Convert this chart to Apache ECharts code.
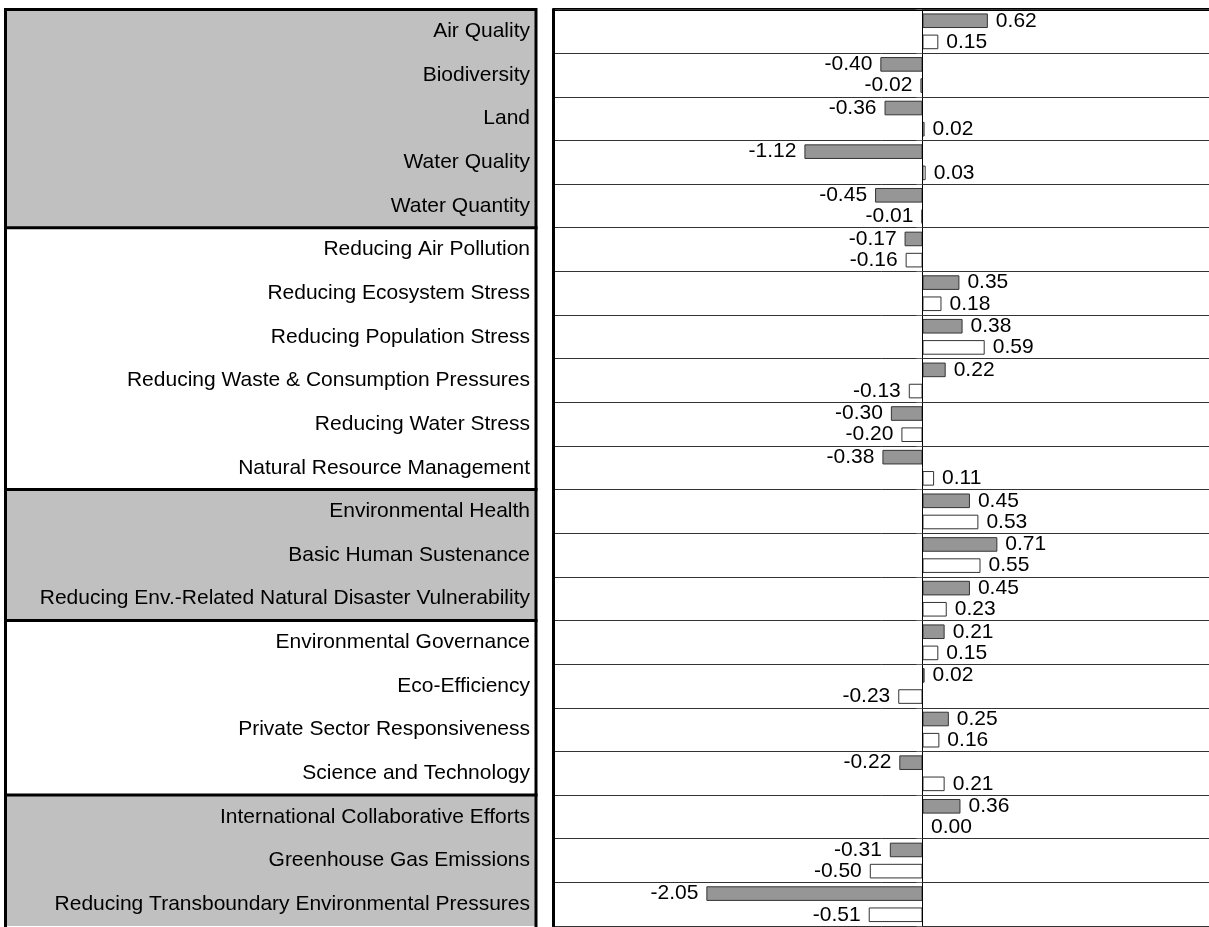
<!DOCTYPE html>
<html>
<head>
<meta charset="utf-8">
<script src="https://cdn.jsdelivr.net/npm/echarts@6/dist/echarts.min.js"></script>
<style>
html,body{margin:0;padding:0;background:#fff;}
#main{width:1209px;height:927px;}
</style>
</head>
<body>
<div id="main"></div>
<script>
const categories = [
  'Air Quality','Biodiversity','Land','Water Quality','Water Quantity',
  'Reducing Air Pollution','Reducing Ecosystem Stress','Reducing Population Stress',
  'Reducing Waste & Consumption Pressures','Reducing Water Stress','Natural Resource Management',
  'Environmental Health','Basic Human Sustenance','Reducing Env.-Related Natural Disaster Vulnerability',
  'Environmental Governance','Eco-Efficiency','Private Sector Responsiveness','Science and Technology',
  'International Collaborative Efforts','Greenhouse Gas Emissions','Reducing Transboundary Environmental Pressures'
];
const greyValues = [0.62,-0.40,-0.36,-1.12,-0.45,-0.17,0.35,0.38,0.22,-0.30,-0.38,0.45,0.71,0.45,0.21,0.02,0.25,-0.22,0.36,-0.31,-2.05];
const whiteValues = [0.15,-0.02,0.02,0.03,-0.01,-0.16,0.18,0.59,-0.13,-0.20,0.11,0.53,0.55,0.23,0.15,-0.23,0.16,0.21,0.00,-0.50,-0.51];
// groups: [first row, last row, shaded]
const groups = [[0,4,1],[5,10,0],[11,13,1],[14,17,0],[18,20,1]];

const FONT = "'Liberation Sans', Arial, sans-serif";
const chart = echarts.init(document.getElementById('main'));

function barData(vals){
  return vals.map(v => ({value: v, label: {position: v < 0 ? 'left' : 'right'}}));
}
const valueLabel = {
  show: true, distance: 8, fontSize: 21, fontFamily: FONT, color: '#000',
  formatter: p => Number(p.value).toFixed(2)
};

chart.setOption({
  animation: false,
  backgroundColor: '#fff',
  grid: [
    {left: 5.5, top: 9.5, width: 530.5, height: 916.5, outerBoundsMode: 'none', containLabel: false},
    {left: 553.5, top: 9.5, width: 738, height: 916.5, outerBoundsMode: 'none', containLabel: false}
  ],
  xAxis: [
    {gridIndex: 0, type: 'value', min: 0, max: 1, show: false},
    {gridIndex: 1, type: 'value', min: -3.5, max: 3.5, position: 'top',
     axisLine: {show: true, onZero: false, lineStyle: {color: '#000', width: 3}},
     axisTick: {show: false}, axisLabel: {show: false}, splitLine: {show: false}}
  ],
  yAxis: [
    {gridIndex: 0, type: 'category', data: categories, inverse: true, position: 'right', z: 10,
     axisLine: {show: false}, axisTick: {show: false}, splitLine: {show: false},
     axisLabel: {inside: true, margin: 6, fontSize: 21, fontFamily: FONT, color: '#000'}},
    {gridIndex: 1, type: 'category', data: categories, inverse: true, z: 5,
     axisLine: {show: true, onZero: true, lineStyle: {color: '#000', width: 1}},
     axisTick: {show: true, length: 6, lineStyle: {color: '#666'}},
     axisLabel: {show: false},
     splitLine: {show: true, lineStyle: {color: '#333', width: 1}}},
    {gridIndex: 1, type: 'category', data: categories, inverse: true, position: 'left', z: 6,
     axisLine: {show: true, onZero: false, lineStyle: {color: '#000', width: 3}},
     axisTick: {show: false}, axisLabel: {show: false}, splitLine: {show: false}}
  ],
  series: [
    {
      type: 'custom', xAxisIndex: 0, yAxisIndex: 0, z: 1, silent: true,
      data: groups,
      encode: {y: [0, 1]},
      renderItem: function (params, api) {
        const cs = params.coordSys;
        const band = api.size([0, 1])[1];
        const y0 = api.coord([0, api.value(0)])[1] - band / 2;
        const y1 = api.coord([0, api.value(1)])[1] + band / 2;
        const x0 = cs.x, x1 = cs.x + cs.width;
        const line = {stroke: '#000', lineWidth: 3};
        return {
          type: 'group',
          children: [
            {type: 'rect', shape: {x: x0, y: y0, width: x1 - x0, height: y1 - y0},
             style: {fill: api.value(2) ? '#c0c0c0' : '#ffffff'}},
            {type: 'line', shape: {x1: x0, y1: y0, x2: x1, y2: y0}, style: line},
            {type: 'line', shape: {x1: x0, y1: y0 - 1.5, x2: x0, y2: y1 + 1.5}, style: line},
            {type: 'line', shape: {x1: x1, y1: y0 - 1.5, x2: x1, y2: y1 + 1.5}, style: line}
          ]
        };
      }
    },
    {
      type: 'bar', xAxisIndex: 1, yAxisIndex: 1, data: barData(greyValues),
      barCategoryGap: '18%', barGap: '45%',
      itemStyle: {color: '#969696', borderColor: '#333', borderWidth: 1},
      label: valueLabel
    },
    {
      type: 'bar', xAxisIndex: 1, yAxisIndex: 1, data: barData(whiteValues),
      barCategoryGap: '18%', barGap: '45%',
      itemStyle: {color: '#ffffff', borderColor: '#333', borderWidth: 1},
      label: valueLabel
    }
  ]
});
</script>
</body>
</html>
